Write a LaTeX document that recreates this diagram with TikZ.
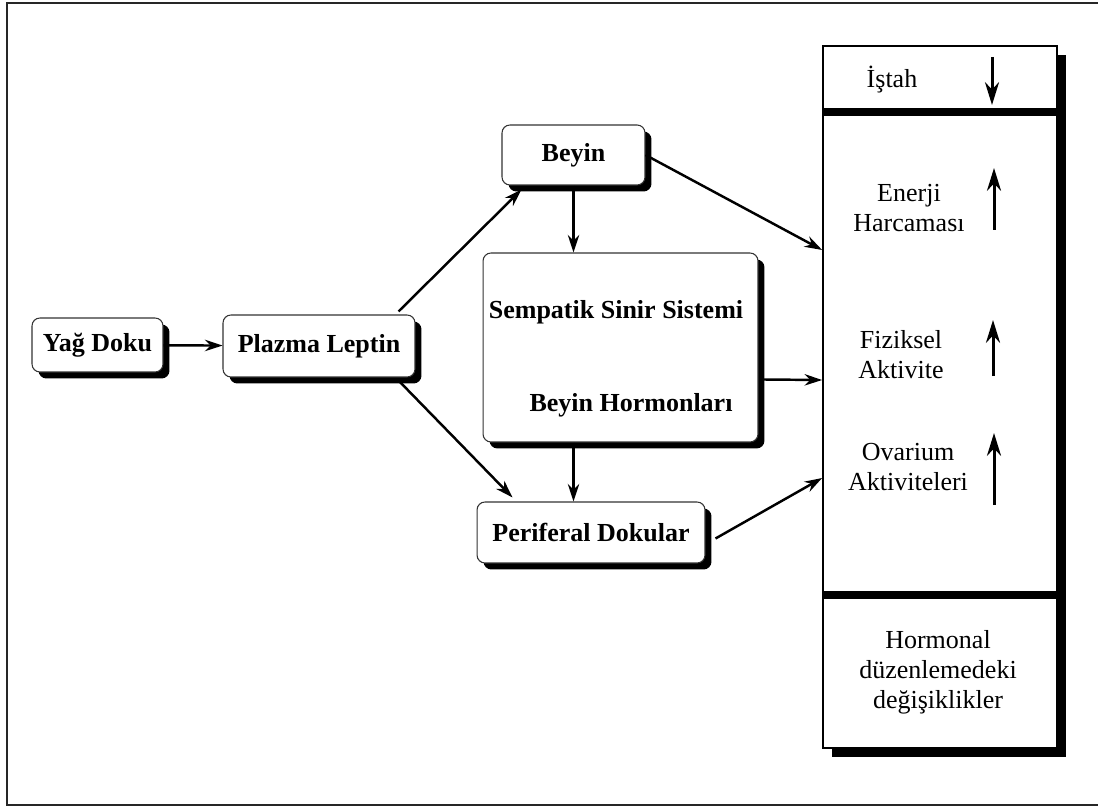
\documentclass[tikz,border=0pt]{standalone}
\usepackage{fontspec}
\setmainfont{Liberation Serif}
\usepackage{tikz}
\usetikzlibrary{arrows.meta,shadows,calc}
\newcommand{\boxsh}{0.13cm}
\newcommand{\panelsh}{0.18cm}
\newcommand{\yazi}{\fontsize{14.8}{17}\selectfont}

\begin{document}
\begin{tikzpicture}[x=0.02cm, y=-0.02cm]
                        %\draw[help lines] (0,0) grid (1098,807);
                        \useasboundingbox (0,0) rectangle (1098,807);
                        \tikzset{kutu/.style = {draw=black!80, line width=0.6pt, fill=white, rounded corners=4.5pt,
                                 inner sep=0pt, font=\yazi\bfseries,
                                 drop shadow={fill=black, opacity=1, shadow xshift=\boxsh, shadow yshift=-\boxsh}}}
                        \tikzset{metin/.style = {font=\yazi, align=center, inner sep=0pt}}
                        \tikzset{ok/.style = {-{Stealth[length=10pt, width=6.5pt]}, line width=1.4pt}}
                        \tikzset{gosterge/.style = {-{Stealth[length=13pt, width=8pt]}, line width=1.7pt}}
                        % outer frame
                        \draw[line width=0.8pt, black!85] (1098,3) -- (7,3) -- (7,805) -- (1098,805);
                        % boxes
                        \node[kutu, minimum width=2.62cm, minimum height=1.08cm] (yag) at (97.5,345) {Yağ Doku};
                        \node[kutu, minimum width=3.84cm, minimum height=1.24cm] (plazma) at (319,346) {Plazma Leptin};
                        \node[kutu, minimum width=2.86cm, minimum height=1.2cm] (beyin) at (573.5,155) {Beyin};
                        \node[kutu, minimum width=5.5cm, minimum height=3.78cm] (sempatik) at (620.5,347.5) {};
                        \node[font=\yazi\bfseries, inner sep=0pt] (sss) at (616,312) {Sempatik Sinir Sistemi};
                        \node[font=\yazi\bfseries, inner sep=0pt] (bh) at (631,405) {Beyin Hormonları};
                        \node[kutu, minimum width=4.56cm, minimum height=1.22cm] (periferal) at (591,532.5) {Periferal Dokular};
                        % right panel
                        \node[draw, line width=1pt, fill=white, minimum width=4.68cm, minimum height=14.04cm, inner sep=0pt,
                              drop shadow={fill=black, opacity=1, shadow xshift=\panelsh, shadow yshift=-\panelsh}] (panel) at (940,397) {};
                        \draw[line width=4.5pt] (824,112) -- (1062,112);
                        \draw[line width=4.5pt] (824,595) -- (1062,595);
                        \node[metin] (istah) at (892,80) {İştah};
                        \node[metin] (enerji) at (909,208) {Enerji\\Harcaması};
                        \node[metin] (fiziksel) at (901,355) {Fiziksel\\Aktivite};
                        \node[metin] (ovarium) at (908,467) {Ovarium\\Aktiviteleri};
                        \node[metin] (hormonal) at (938,672) {Hormonal\\düzenlemedeki\\değişiklikler};
                        \draw[gosterge] (992,57) -- (992,105);
                        \draw[gosterge] (994,230) -- (994,168);
                        \draw[gosterge] (993,376) -- (993,320);
                        \draw[gosterge] (994,505) -- (994,433);
                        % connectors
                        \coordinate (girisA) at (panel.west |- 0,250);
                        \coordinate (girisB) at (panel.west |- 0,380);
                        \coordinate (girisC) at (panel.west |- 0,478);
                        \draw[ok] (yag) -- (plazma);
                        \draw[ok] ($(plazma.north east)+(-17,-3)$) -- ($(beyin.south west)+(20,4)$);
                        \draw[ok] ($(plazma.south east)+(-17,3)$) -- ($(periferal.north west)+(36,-4)$);
                        \draw[ok] (beyin.south) -- (beyin.south |- sempatik.north);
                        \draw[ok] (beyin.south |- sempatik.south) -- (beyin.south |- periferal.north);
                        \draw[ok] (beyin.east) -- (girisA);
                        \draw[ok] ($(sempatik.east)+(5,32)$) -- (girisB);
                        \draw[ok] ($(periferal.east)+(10,6)$) -- (girisC);
\end{tikzpicture}
\end{document}
